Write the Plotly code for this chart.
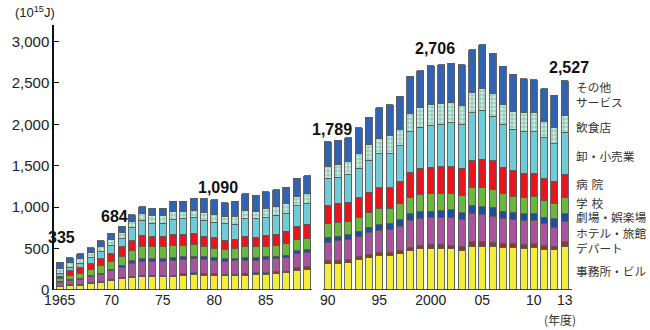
import plotly.graph_objects as go

# Fiscal years; a one-slot gap separates 1989 from 1990 (statistical break)
years = list(range(1965, 2014))

# Energy consumption by building type (10^15 J), bottom to top of each stack
office = [40, 60, 60, 80, 88, 120, 140, 152, 160, 160, 160, 160, 180, 188, 180, 180, 172, 172, 180, 188, 192, 200, 208, 240, 248,
          320, 320, 332, 368, 392, 412, 412, 440, 472, 496, 500, 500, 496, 480, 528, 528, 520, 512, 512, 500, 512, 492, 488, 528]
department = [5, 8, 8, 8, 12, 8, 12, 16, 16, 16, 12, 20, 20, 20, 20, 20, 20, 20, 20, 20, 16, 20, 20, 32, 32,
              32, 40, 36, 32, 36, 36, 36, 40, 40, 44, 48, 52, 44, 48, 52, 52, 48, 48, 48, 48, 48, 48, 40, 52]
hotel = [44, 52, 60, 72, 88, 104, 120, 152, 172, 172, 176, 172, 168, 168, 168, 160, 156, 160, 160, 152, 160, 156, 160, 168, 168,
         224, 232, 240, 248, 264, 272, 284, 288, 328, 328, 324, 320, 332, 320, 340, 328, 324, 308, 288, 292, 280, 260, 232, 248]
theater = [8, 8, 12, 12, 12, 16, 28, 32, 32, 32, 32, 36, 32, 32, 32, 32, 28, 28, 32, 32, 32, 32, 32, 32, 40,
           60, 60, 60, 60, 68, 68, 68, 80, 80, 80, 80, 88, 96, 84, 100, 100, 108, 80, 92, 80, 88, 80, 100, 92]
school = [40, 52, 60, 76, 92, 92, 100, 120, 148, 140, 140, 152, 140, 140, 128, 108, 112, 120, 128, 128, 128, 132, 140, 136, 132,
          168, 168, 164, 172, 180, 192, 188, 192, 192, 204, 208, 200, 192, 208, 212, 224, 208, 212, 192, 200, 204, 200, 180, 200]
hospital = [32, 52, 68, 72, 88, 100, 120, 120, 132, 132, 132, 132, 132, 140, 120, 132, 112, 112, 128, 120, 132, 132, 152, 160, 172,
            220, 228, 228, 232, 240, 252, 244, 268, 308, 320, 320, 328, 328, 332, 336, 348, 352, 320, 308, 288, 276, 272, 268, 280]
retail = [36, 40, 52, 72, 80, 100, 100, 160, 180, 156, 156, 176, 188, 184, 192, 184, 200, 180, 212, 220, 212, 228, 216, 252, 248,
          325, 312, 332, 360, 388, 416, 416, 432, 492, 496, 512, 512, 532, 528, 572, 592, 540, 520, 500, 504, 504, 488, 460, 507]
restaurant = [52, 56, 60, 56, 68, 74, 76, 76, 80, 92, 92, 100, 92, 88, 100, 92, 88, 96, 100, 92, 108, 108, 112, 108, 120,
              140, 152, 160, 176, 184, 184, 212, 200, 216, 232, 248, 248, 240, 232, 248, 260, 268, 240, 220, 228, 228, 200, 200, 200]
other = [78, 60, 60, 60, 64, 70, 72, 80, 88, 88, 88, 124, 120, 148, 168, 182, 168, 184, 200, 192, 204, 200, 200, 224, 220,
         300, 296, 288, 312, 336, 368, 380, 400, 452, 448, 466, 472, 480, 488, 512, 528, 492, 460, 448, 412, 400, 392, 384, 420]

series_names = ["事務所・ビル", "デパート", "ホテル・旅館", "劇場・娯楽場", "学\u2004校",
                "病\u2004院", "卸・小売業", "飲食店", "その他<br>サービス"]
series_values = [office, department, hotel, theater, school, hospital, retail, restaurant, other]
series_colors = ["#f3ed3a", "#8e3a2a", "#a9539f", "#1f4f9c", "#6ab83b",
                 "#e8151f", "#6ecbd8", "#cfeadb", "#3262b2"]

# Years whose totals are printed above the bars
labelled_years = [1965, 1970, 1980, 1990, 2000, 2013]
label_yshift = [25, 17, 12, 12, 17, 13]
label_xshift = [2, 3, 3.5, 4.5, 4.5, 4]

tick_years = [1965, 1970, 1975, 1980, 1985, 1990, 1995, 2000, 2005, 2010, 2013]
tick_text = ["1965", "70", "75", "80", "85", "90", "95", "2000", "05", "10", "13"]


def xpos(year):
    return year - 1965 if year <= 1989 else year - 1964


xs = [xpos(y) for y in years]
totals = [sum(v[i] for v in series_values) for i in range(len(years))]

fig = go.Figure()
for name, vals, col in zip(series_names, series_values, series_colors):
    marker = dict(color=col, line=dict(color="#5a5a5a", width=0.9))
    if name == "飲食店":
        marker["pattern"] = dict(shape="+", fgcolor="#2a9585", bgcolor=col,
                                 size=4, solidity=0.4)
    fig.add_trace(go.Bar(x=xs, y=vals, name=name, width=0.68, marker=marker))

# Plot-area geometry in pixels
L, R, T, B = 47, 78, 25, 40
W, H = 650, 330
pw, ph = W - L - R, H - T - B


def px_x(px):
    return (px - L) / pw


def px_y(py):
    return (H - B - py) / ph


anns = []
for yr, ys, xsft in zip(labelled_years, label_yshift, label_xshift):
    i = years.index(yr)
    anns.append(dict(x=xpos(yr), y=totals[i], xref="x", yref="y",
                     text=f"<b>{totals[i]:,}</b>", showarrow=False,
                     yshift=ys, xshift=xsft,
                     font=dict(family="Liberation Sans, Arial", size=16, color="#111")))

# Category names beside the last bar
legend_y = [270, 247, 232, 216, 202, 183, 155, 126, 94]
for name, py in zip(series_names, legend_y):
    anns.append(dict(x=px_x(575), y=px_y(py), xref="paper", yref="paper",
                     text=name, showarrow=False, xanchor="left", yanchor="middle",
                     align="left", borderpad=0,
                     font=dict(family="Noto Sans CJK JP", size=11.7, color="#333")))

anns.append(dict(x=px_x(28), y=px_y(12), xref="paper", yref="paper",
                 text="(10<sup>15</sup>J)", showarrow=False,
                 xanchor="center", yanchor="middle",
                 font=dict(family="Liberation Sans, Arial", size=13, color="#222")))
anns.append(dict(x=px_x(560), y=px_y(319), xref="paper", yref="paper",
                 text="(年度)", showarrow=False,
                 xanchor="center", yanchor="middle",
                 font=dict(family="Noto Sans CJK JP", size=12, color="#333")))

# Baseline drawn in two pieces around the break
gap_left = xpos(1989) + 0.45
gap_right = xpos(1990) - 0.45
shapes = [
    dict(type="line", xref="x", yref="y", x0=-0.55, x1=gap_left, y0=0, y1=0,
         line=dict(color="#111", width=1.5)),
    dict(type="line", xref="x", yref="y", x0=gap_right, x1=xpos(2013) + 0.7, y0=0, y1=0,
         line=dict(color="#111", width=1.5)),
]

fig.update_layout(
    width=W, height=H,
    margin=dict(l=L, r=R, t=T, b=B, pad=0),
    barmode="stack",
    showlegend=False,
    plot_bgcolor="white", paper_bgcolor="white",
    annotations=anns, shapes=shapes,
    xaxis=dict(range=[-0.55, xpos(2013) + 0.7], tickvals=[xpos(y) for y in tick_years],
               ticktext=tick_text, showline=False, showgrid=False, zeroline=False,
               ticks="", tickfont=dict(family="Liberation Sans, Arial", size=14, color="#222")),
    yaxis=dict(range=[0, 3200], tickvals=[0, 500, 1000, 1500, 2000, 2500, 3000],
               tickformat=",", showline=True, linecolor="#111", linewidth=1.5,
               ticks="inside", ticklen=5, tickcolor="#111", showgrid=False, zeroline=False,
               tickfont=dict(family="Liberation Sans, Arial", size=15, color="#222")),
)

fig.write_html("out.html")
